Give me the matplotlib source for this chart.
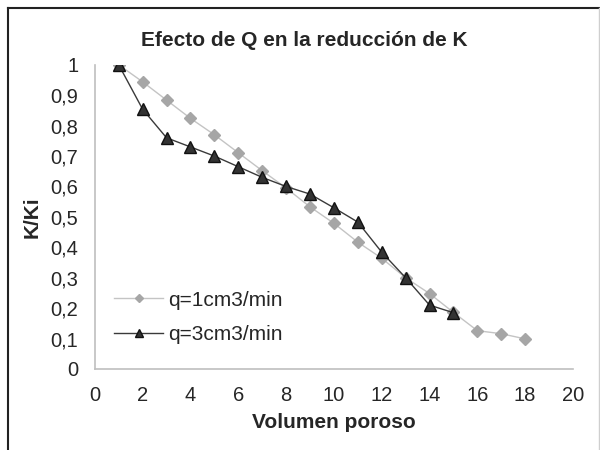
import matplotlib
matplotlib.use("Agg")
import matplotlib.pyplot as plt
from matplotlib.ticker import FuncFormatter
from matplotlib.lines import Line2D

plt.rcParams['font.family'] = ['Liberation Sans', 'DejaVu Sans']

# datos
vp_q1 = [1, 2, 3, 4, 5, 6, 7, 8, 9, 10, 11, 12, 13, 14, 15, 16, 17, 18]
k_q1 = [1.0, 0.944, 0.884, 0.824, 0.77, 0.711, 0.652, 0.595, 0.533, 0.479, 0.417,
        0.364, 0.30, 0.248, 0.186, 0.126, 0.116, 0.099]

vp_q3 = [1, 2, 3, 4, 5, 6, 7, 8, 9, 10, 11, 12, 13, 14, 15]
k_q3 = [1.0, 0.854, 0.76, 0.73, 0.70, 0.665, 0.63, 0.60, 0.575, 0.53, 0.483,
        0.384, 0.30, 0.21, 0.185]

fig = plt.figure(figsize=(6, 4.5), dpi=100)
ax = fig.add_axes([0.158, 0.18, 0.797, 0.676])

ax.plot(vp_q1, k_q1, color='#c4c4c4', lw=1.0, marker='D', ms=6.5,
        mfc='#a6a6a6', mec='#a6a6a6', label='q=1cm3/min', zorder=2)
ax.plot(vp_q3, k_q3, color='#3a3a3a', lw=1.0, marker='^', ms=8.5,
        mfc='#333333', mec='#111111', label='q=3cm3/min', zorder=3)

ax.set_xlim(0, 20)
ax.set_ylim(0, 1)
ax.set_xticks(range(0, 21, 2))
ax.set_yticks([i / 10 for i in range(11)])
ax.yaxis.set_major_formatter(FuncFormatter(
    lambda v, p: '0' if v == 0 else ('1' if v == 1 else ('%.1f' % v).replace('.', ','))))

for s in ['top', 'right']:
    ax.spines[s].set_visible(False)
ax.spines['left'].set_color('#bfbfbf')
ax.spines['bottom'].set_color('#bfbfbf')
ax.spines['left'].set_linewidth(1.2)
ax.spines['bottom'].set_linewidth(1.2)
ax.tick_params(length=0, labelsize=14.5, colors='#262626', pad=12)

fig.text(304 / 600, 1 - 40 / 450, 'Efecto de Q en la reducción de K', fontsize=15,
         fontweight='bold', color='#262626', ha='center', va='center')
ax.set_xlabel('Volumen poroso', fontsize=15, fontweight='bold', color='#262626', labelpad=6)
ax.set_ylabel('K/Ki', fontsize=15, fontweight='bold', color='#262626', labelpad=6)

leg = ax.legend(loc='center left', bbox_to_anchor=(0.001, 0.169), frameon=False,
                fontsize=15, handlelength=2.35, handletextpad=0.25,
                markerscale=0.7, labelspacing=0.75)
for t in leg.get_texts():
    t.set_color('#262626')

# marco de la figura
fig.add_artist(Line2D([8 / 600, 8 / 600], [0, 1 - 8 / 450], transform=fig.transFigure,
                      color='#222222', lw=1.5))
fig.add_artist(Line2D([8 / 600, 1], [1 - 8 / 450, 1 - 8 / 450], transform=fig.transFigure,
                      color='#222222', lw=1.5))
fig.add_artist(Line2D([599 / 600, 599 / 600], [0, 1 - 8 / 450], transform=fig.transFigure,
                      color='#cfcfcf', lw=1.0))

fig.savefig('out.png', dpi=100)
